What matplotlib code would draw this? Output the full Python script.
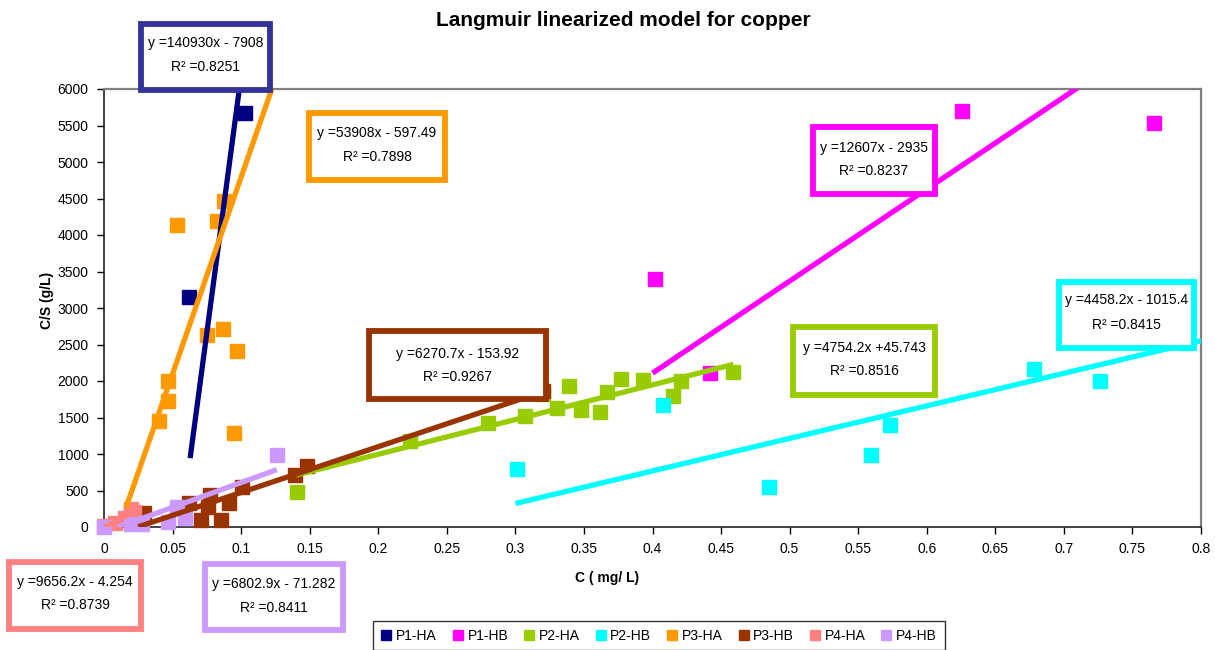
import matplotlib
matplotlib.use('Agg')
import matplotlib.pyplot as plt
from matplotlib.lines import Line2D
from matplotlib.patches import Rectangle
import numpy as np

plt.rcParams['font.family'] = ['Liberation Sans', 'DejaVu Sans']

# ---------------- data ----------------
series_names = ['P1-HA', 'P1-HB', 'P2-HA', 'P2-HB', 'P3-HA', 'P3-HB', 'P4-HA', 'P4-HB']
series_colors = ['#000080', '#FF00FF', '#99CC00', '#00FFFF', '#FF9900', '#993300', '#FF8080', '#CC99FF']
box_colors = ['#333399', '#FF00FF', '#99CC00', '#00FFFF', '#FF9900', '#993300', '#FF8080', '#CC99FF']

p1ha_c = [0.062, 0.103]
p1ha_s = [3150, 5670]
p1hb_c = [0.402, 0.4416, 0.6255, 0.766]
p1hb_s = [3397, 2110, 5699, 5534]
p2ha_c = [0.141, 0.223, 0.280, 0.307, 0.320, 0.330, 0.339, 0.348, 0.362, 0.367, 0.377, 0.393, 0.415, 0.421, 0.459]
p2ha_s = [479, 1178, 1425, 1520, 1820, 1630, 1930, 1600, 1575, 1850, 2030, 2010, 1795, 2000, 2120]
p2hb_c = [0.301, 0.408, 0.485, 0.559, 0.573, 0.678, 0.726, 0.790]
p2hb_s = [795, 1671, 548, 986, 1397, 2164, 2000, 2520]
p3ha_c = [0.020, 0.040, 0.047, 0.047, 0.053, 0.075, 0.0825, 0.0869, 0.0876, 0.095, 0.097]
p3ha_s = [200, 1452, 1726, 2000, 4137, 2630, 4192, 2712, 4466, 1288, 2411]
p3hb_c = [0.029, 0.062, 0.071, 0.076, 0.077, 0.085, 0.091, 0.101, 0.139, 0.148, 0.320]
p3hb_s = [190, 329, 96, 274, 438, 96, 329, 548, 712, 836, 1860]
p4ha_c = [0.000, 0.008, 0.015, 0.020, 0.022]
p4ha_s = [10, 60, 120, 250, 200]
p4hb_c = [0.000, 0.020, 0.028, 0.047, 0.053, 0.059, 0.126]
p4hb_s = [0, 41, 40, 68, 274, 123, 986]

series_c = [p1ha_c, p1hb_c, p2ha_c, p2hb_c, p3ha_c, p3hb_c, p4ha_c, p4hb_c]
series_s = [p1ha_s, p1hb_s, p2ha_s, p2hb_s, p3ha_s, p3hb_s, p4ha_s, p4hb_s]

# linear trendlines (slope, intercept, x-range)
trend_slope = [140930, 12607, 4754.2, 4458.2, 53908, 6270.7, 9656.2, 6802.9]
trend_icpt = [-7908, -2935, 45.743, -1015.4, -597.49, -153.92, -4.254, -71.282]
trend_x0 = [0.0628, 0.400, 0.140, 0.300, 0.016, 0.025, 0.000, 0.010]
trend_x1 = [0.103, 0.766, 0.459, 0.800, 0.125, 0.320, 0.022, 0.126]

eq_text = ['y =140930x - 7908', 'y =12607x - 2935', 'y =4754.2x +45.743', 'y =4458.2x - 1015.4',
           'y =53908x - 597.49', 'y =6270.7x - 153.92', 'y =9656.2x - 4.254', 'y =6802.9x - 71.282']
r2_text = ['R² =0.8251', 'R² =0.8237', 'R² =0.8516', 'R² =0.8415',
           'R² =0.7898', 'R² =0.9267', 'R² =0.8739', 'R² =0.8411']

x_ticks = [0, 0.05, 0.1, 0.15, 0.2, 0.25, 0.3, 0.35, 0.4, 0.45, 0.5, 0.55, 0.6, 0.65, 0.7, 0.75, 0.8]
x_tick_labels = ['0', '0.05', '0.1', '0.15', '0.2', '0.25', '0.3', '0.35', '0.4', '0.45',
                 '0.5', '0.55', '0.6', '0.65', '0.7', '0.75', '0.8']
y_ticks = [0, 500, 1000, 1500, 2000, 2500, 3000, 3500, 4000, 4500, 5000, 5500, 6000]

# ---------------- layout ----------------
W, H = 1215, 650
fig = plt.figure(figsize=(W / 100, H / 100), dpi=100)
fig.patch.set_facecolor('white')

def fx(px):
    return px / W

def fy(py):
    return 1 - py / H

ax = fig.add_axes([fx(104), fy(527), (1201 - 104) / W, (527 - 89) / H])
ax.set_xlim(0, 0.8)
ax.set_ylim(0, 6000)
ax.set_xticks(x_ticks)
ax.set_xticklabels(x_tick_labels)
ax.set_yticks(y_ticks)
ax.tick_params(direction='out', length=5, width=1, labelsize=10, colors='black')
ax.tick_params(axis='x', pad=6)
ax.tick_params(axis='y', pad=6)
for sp in ['top', 'right']:
    ax.spines[sp].set_color('#808080')
    ax.spines[sp].set_linewidth(1.6)
for sp in ['left', 'bottom']:
    ax.spines[sp].set_color('#222222')
    ax.spines[sp].set_linewidth(1.2)

# markers
for c, s, col in zip(series_c, series_s, series_colors):
    ax.plot(c, s, 's', ms=9.5, color=col, mec=col, ls='none', zorder=3, clip_on=False)

# trendlines
for k in range(len(series_names)):
    xs = np.array([trend_x0[k], trend_x1[k]])
    ys = trend_slope[k] * xs + trend_icpt[k]
    ax.plot(xs, ys, '-', color=series_colors[k], lw=3.8, solid_capstyle='butt', zorder=4)

# equation boxes (pixel center-line rectangles: x0, y0, x1, y1)
box_px = [(141, 24, 270, 90),      # P1-HA
          (813, 127, 935, 194),    # P1-HB
          (793, 327, 935, 395),    # P2-HA
          (1059, 282, 1194, 348),  # P2-HB
          (309, 113, 445, 180),    # P3-HA
          (369, 331, 546, 399),    # P3-HB
          (9, 562, 141, 629),      # P4-HA
          (205, 564, 343, 630)]    # P4-HB
line1_y = [43, 148, 348, 300, 133, 354, 582, 584]
line2_y = [67, 171, 371, 325, 157, 377, 605, 608]

for k in range(len(series_names)):
    x0, y0, x1, y1 = box_px[k]
    rect = Rectangle((fx(x0), fy(y1)), fx(x1) - fx(x0), fy(y0) - fy(y1),
                     transform=fig.transFigure, facecolor='white',
                     edgecolor=box_colors[k], lw=4.2, zorder=10, clip_on=False)
    fig.add_artist(rect)
    xc = fx((x0 + x1) / 2)
    fig.text(xc, fy(line1_y[k]), eq_text[k], ha='center', va='center', fontsize=10, zorder=11)
    fig.text(xc, fy(line2_y[k]), r2_text[k], ha='center', va='center', fontsize=10, zorder=11)

# titles / labels
fig.text(fx(623), fy(20), 'Langmuir linearized model for copper', ha='center', va='center',
         fontsize=15, fontweight='bold')
fig.text(fx(607), fy(578), 'C ( mg/ L)', ha='center', va='center', fontsize=10, fontweight='bold')
fig.text(fx(47), fy(300), 'C/S (g/L)', ha='center', va='center', fontsize=10, fontweight='bold',
         rotation=90)

# legend
handles = [Line2D([], [], marker='s', ls='none', color=c, mec=c, ms=7) for c in series_colors]
leg = fig.legend(handles, series_names, loc='upper center', bbox_to_anchor=(fx(659), fy(621)),
                 ncol=8, fontsize=10, frameon=True, fancybox=False, edgecolor='black',
                 handlelength=0.8, handletextpad=0.3, columnspacing=1.1, borderpad=0.55,
                 borderaxespad=0)
leg.get_frame().set_linewidth(1.0)

fig.savefig('out.png', dpi=100, facecolor='white')
